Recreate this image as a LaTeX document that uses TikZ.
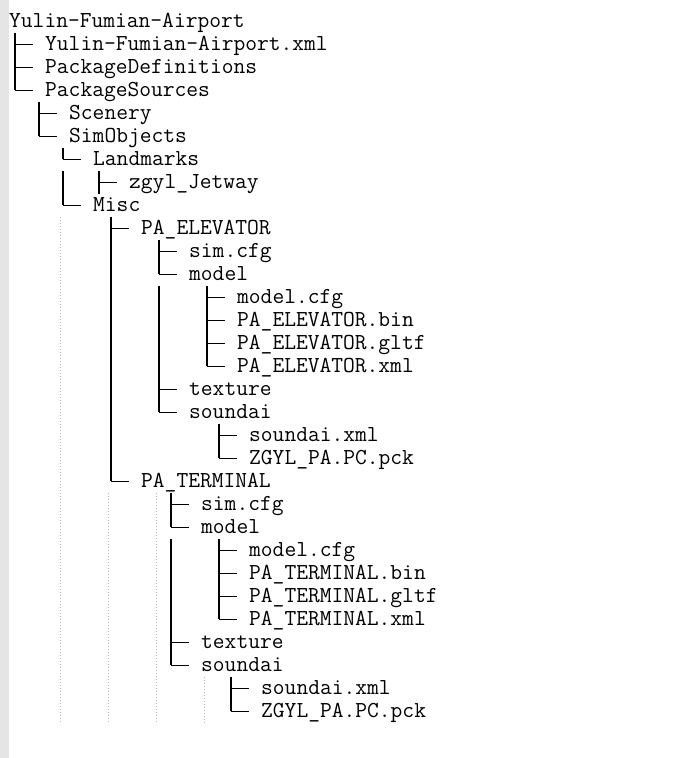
\documentclass[tikz,border=0pt]{standalone}
\usetikzlibrary{calc}

\begin{document}
\begin{tikzpicture}[x=1pt,y=-1pt,
  item/.style={anchor=west,inner sep=0pt,text height=17pt,text depth=4pt,font=\ttfamily\fontsize{22.86}{23}\selectfont},
  stem/.style={line width=1.5pt},
  twig/.style={line width=1pt},
  guide/.style={gray!55,line width=0.8pt,dash pattern=on 1pt off 2pt}]
\useasboundingbox (0,0) rectangle (681,758);
\fill[black!10] (0,0) rectangle (9,758);
% indent guides
\draw[guide] (60,216.5) -- (60,722.5);
\draw[guide] (108,492.5) -- (108,722.5); \draw[guide] (156,492.5) -- (156,722.5);
\draw[guide] (204,676.5) -- (204,722.5);
\node[item] (root) at (9,21) {Yulin-Fumian-Airport};
% name/column/row/glyph end/text  (glyph end 11.5 = tee, 0 = corner)
\foreach \n/\c/\r/\b/\t in {xml/3/1/11.5/Yulin-Fumian-Airport.xml, pdef/3/2/11.5/PackageDefinitions, psrc/3/3/0/PackageSources,
  scen/5/4/11.5/Scenery, simobj/5/5/0/SimObjects, land/7/6/0/Landmarks, jet/10/7/11.5/zgyl\_Jetway, misc/7/8/0/Misc,
  elev/11/9/11.5/PA\_ELEVATOR, simA/15/10/11.5/sim.cfg, modA/15/11/0/model,
  mcfgA/19/12/11.5/model.cfg, binA/19/13/11.5/PA\_ELEVATOR.bin, gltfA/19/14/11.5/PA\_ELEVATOR.gltf, xmlA/19/15/0/PA\_ELEVATOR.xml,
  texA/15/16/11.5/texture, sndA/15/17/0/soundai, sxmlA/20/18/11.5/soundai.xml, pckA/20/19/0/ZGYL\_PA.PC.pck,
  term/11/20/0/PA\_TERMINAL, simB/16/21/11.5/sim.cfg, modB/16/22/0/model,
  mcfgB/20/23/11.5/model.cfg, binB/20/24/11.5/PA\_TERMINAL.bin, gltfB/20/25/11.5/PA\_TERMINAL.gltf, xmlB/20/26/0/PA\_TERMINAL.xml,
  texB/16/27/11.5/texture, sndB/16/28/0/soundai, sxmlB/21/29/11.5/soundai.xml, pckB/21/30/0/ZGYL\_PA.PC.pck}
{
  \node[item] (\n) at (9+12*\c,21+23*\r) {\t};
  \draw[stem] ($(\n.west)+(-30,-11.5)$) -- ($(\n.west)+(-30,\b)$);
  \draw[twig] ($(\n.west)+(-30,0)$) -- ($(\n.west)+(-12,0)$);
}
% continuation bars
\foreach \a/\z in {land/misc, elev/term, modA/texA, modB/texB}
  \draw[stem] ($(\a.west)+(-30,11.5)$) -- ($(\z.west)+(-30,-11.5)$);
\end{tikzpicture}
\end{document}
